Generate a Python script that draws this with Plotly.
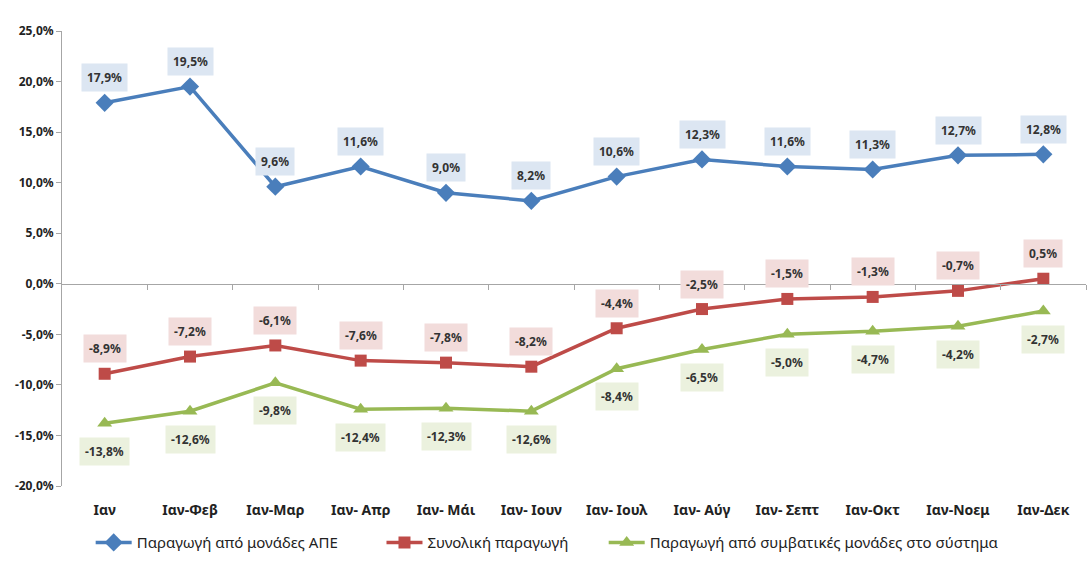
import plotly.graph_objects as go

categories = ["Ιαν", "Ιαν-Φεβ", "Ιαν-Μαρ", "Ιαν- Απρ", "Ιαν- Μάι", "Ιαν- Ιουν",
              "Ιαν- Ιουλ", "Ιαν- Αύγ", "Ιαν- Σεπτ", "Ιαν-Οκτ", "Ιαν-Νοεμ", "Ιαν-Δεκ"]
ape = [17.9, 19.5, 9.6, 11.6, 9.0, 8.2, 10.6, 12.3, 11.6, 11.3, 12.7, 12.8]
total = [-8.9, -7.2, -6.1, -7.6, -7.8, -8.2, -4.4, -2.5, -1.5, -1.3, -0.7, 0.5]
conventional = [-13.8, -12.6, -9.8, -12.4, -12.3, -12.6, -8.4, -6.5, -5.0, -4.7, -4.2, -2.7]
y_ticks = [25, 20, 15, 10, 5, 0, -5, -10, -15, -20]

FONT = "Noto Sans"
# name, values, colour, marker, label background, label offset (px), legend id, legend x, marker size
series = [
    ("Παραγωγή από μονάδες ΑΠΕ", ape, "#4a7ebb", "diamond", "#dce6f2", 25, "legend", 0.028, 14),
    ("Συνολική παραγωγή", total, "#be4b48", "square", "#f2dcdb", 25, "legend2", 0.312, 12),
    ("Παραγωγή από συμβατικές μονάδες στο σύστημα", conventional, "#98b954", "triangle-up",
     "#ebf1de", -28, "legend3", 0.529, 13),
]

fig = go.Figure()
annotations = []
legend_cfg = {}
for name, vals, color, symbol, bg, shift, leg, leg_x, msize in series:
    fig.add_trace(go.Scatter(
        x=list(range(len(categories))), y=vals, name=name, mode="lines+markers",
        line=dict(color=color, width=3.5),
        marker=dict(symbol=symbol, size=msize, color=color),
        legend=leg,
    ))
    legend_cfg[leg] = dict(
        x=leg_x, xanchor="left", y=-0.122, yanchor="middle",
        orientation="h", itemwidth=36, bgcolor="rgba(0,0,0,0)",
        font=dict(family=FONT, size=15, color="#222222"),
    )
    for i, v in enumerate(vals):
        annotations.append(dict(
            x=i, y=v, yshift=shift, xref="x", yref="y",
            text=f"{v:.1f}%".replace(".", ","), showarrow=False,
            bgcolor=bg, borderpad=5,
            font=dict(family=FONT, size=12, color="#333333", weight="bold"),
        ))

y_min, y_max = -20, 25
fig.update_layout(
    width=1092, height=564,
    margin=dict(l=62, r=6, t=31, b=77),
    paper_bgcolor="white", plot_bgcolor="white",
    font=dict(family=FONT, color="#333333"),
    showlegend=True,
    annotations=annotations,
    xaxis=dict(
        range=[-0.5, len(categories) - 0.5],
        tickvals=list(range(len(categories))), ticktext=categories,
        showline=False, ticks="", showgrid=False, zeroline=False,
        ticklabelstandoff=14, automargin=False,
        tickfont=dict(size=14, color="#222222", weight="bold"),
    ),
    xaxis2=dict(
        overlaying="x", anchor="free", position=(0 - y_min) / (y_max - y_min),
        range=[-0.5, len(categories) - 0.5],
        tickvals=[i + 0.5 for i in range(len(categories))],
        showticklabels=False, ticks="outside", ticklen=5, tickcolor="#a6a6a6",
        showline=True, linecolor="#a6a6a6", linewidth=1, showgrid=False, zeroline=False,
    ),
    yaxis=dict(
        range=[y_min, y_max], tickvals=y_ticks,
        ticktext=[f"{t:.1f}%".replace(".", ",") for t in y_ticks],
        showline=True, linecolor="#a6a6a6", ticks="outside", ticklen=5, tickcolor="#a6a6a6",
        showgrid=False, zeroline=False, automargin=False,
        tickfont=dict(size=12, color="#222222", weight="bold"),
    ),
    **legend_cfg,
)
# invisible trace that carries the baseline axis
fig.add_trace(go.Scatter(x=[0], y=[0], xaxis="x2", mode="markers",
                         marker=dict(opacity=0), showlegend=False, hoverinfo="skip"))

fig.write_html("out.html")
